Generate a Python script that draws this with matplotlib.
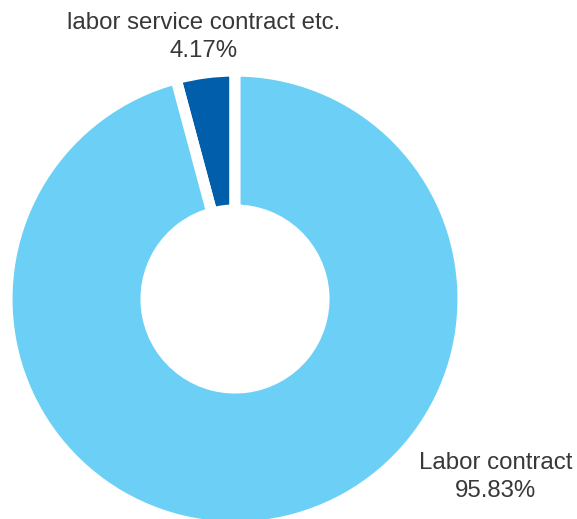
import matplotlib.pyplot as plt

plt.rcParams['font.family'] = ['Liberation Sans', 'DejaVu Sans']

# data
labels = ['labor service contract etc.', 'Labor contract']
shares = [4.17, 95.83]
colors = ['#005EAA', '#6BCFF6']

fig = plt.figure(figsize=(5.77, 5.19), dpi=100)
ax = fig.add_axes([0, 0, 1, 1])
ax.axis('off')

# donut, pixel-like data units
ax.pie(shares, colors=colors, startangle=90, counterclock=True,
       center=(235, 220), radius=228,
       wedgeprops=dict(width=139, edgecolor='white', linewidth=8))
ax.set_xlim(0, 577)
ax.set_ylim(0, 519)
ax.set_aspect('equal')

# labels
ax.text(204, 482, f'{labels[0]}\n{shares[0]:.2f}%', ha='center', va='center',
        fontsize=17.3, color='#383838', linespacing=1.35)
ax.text(496, 42, f'{labels[1]}\n{shares[1]:.2f}%', ha='center', va='center',
        fontsize=17.3, color='#383838', linespacing=1.35)

fig.savefig('out.png', dpi=100)
